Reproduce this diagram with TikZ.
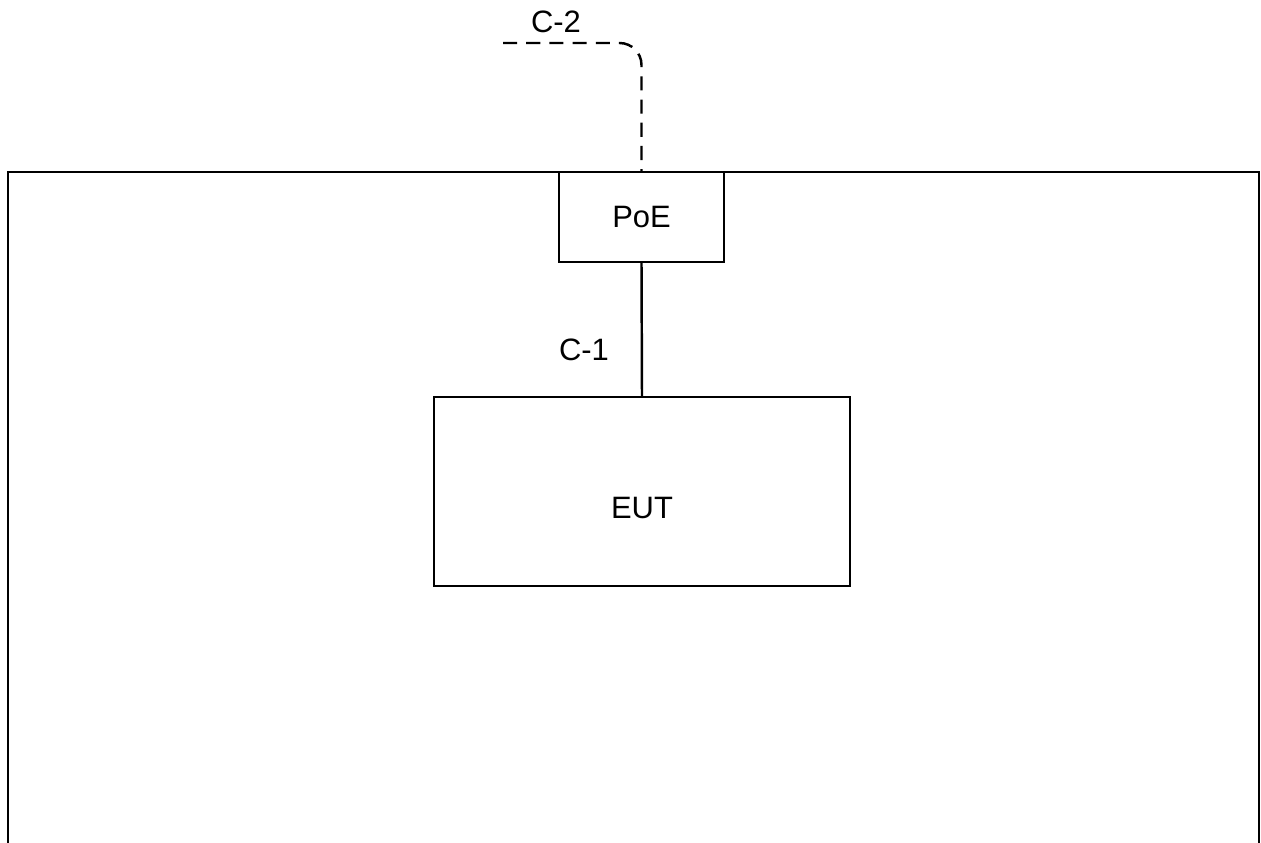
\documentclass[tikz,border=0pt]{standalone}
\usepackage{fontspec}
\setmainfont{Liberation Sans}
\usetikzlibrary{positioning}
\tikzset{
  unitbox/.style={draw, line width=0.7pt, inner sep=0pt, font=\fontsize{8.8}{10}\selectfont},
  cablelabel/.style={inner sep=0pt, font=\fontsize{8.8}{10}\selectfont},
}

\begin{document}
\begin{tikzpicture}
\useasboundingbox (0,0) rectangle (12.61,8.43);
% Test chamber (open at the bottom)
\draw[line width=0.8pt] (0.08,0) -- (0.08,6.71) -- (12.59,6.71) -- (12.59,0);
% Units
\node[unitbox, minimum width=1.65cm, minimum height=0.90cm] (poe) at (6.415,6.26) {PoE};
\node[unitbox, minimum width=4.16cm, minimum height=1.89cm,
      label={[cablelabel, yshift=-1.7mm]center:EUT}] (eut) at (6.42,3.515) {};
% Cables
\draw[line width=0.7pt] (poe.south) -- (eut.north);
\node[cablelabel] (c1) at (5.84,4.93) {C-1};
\coordinate (c2end) at (5.03,8.00);
\draw[line width=0.7pt, dash pattern=on 4pt off 2.6pt, rounded corners=0.22cm] (c2end) -| (poe.north);
\node[cablelabel] (c2) at (5.56,8.21) {C-2};
\end{tikzpicture}
\end{document}
